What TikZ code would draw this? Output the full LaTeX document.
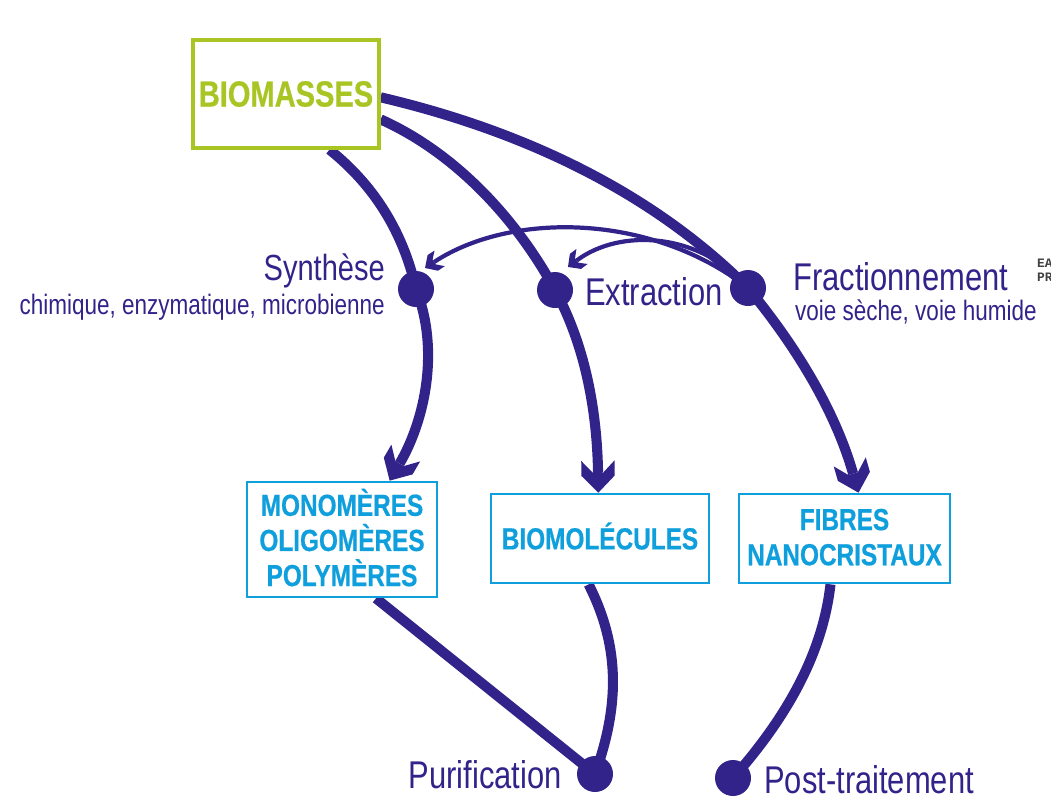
\documentclass[tikz,border=0pt]{standalone}
\usepackage{fontspec}
\usetikzlibrary{arrows.meta,backgrounds}
\newfontfamily\narrowfont[FakeStretch=0.8,BoldFeatures={FakeBold=0.6}]{Liberation Sans}
\newfontfamily\cutfont{Liberation Mono}
\definecolor{biogreen}{HTML}{A9C523}
\definecolor{prodblue}{HTML}{0F9FDC}
\definecolor{pathviolet}{HTML}{32238A}
\pgfdeclarearrow{
    name=BarbTip,
    parameters={\the\pgfarrowlength,\the\pgfarrowwidth},
    setup code={
        \pgfarrowssettipend{0pt}
        \pgfarrowssetlineend{-0.62\pgfarrowlength}
        \pgfarrowssetbackend{-\pgfarrowlength}
        \pgfarrowssetvisualbackend{-0.62\pgfarrowlength}
        \pgfarrowssavethe\pgfarrowlength
        \pgfarrowssavethe\pgfarrowwidth
    },
    drawing code={
        \pgfpathmoveto{\pgfqpoint{0pt}{0pt}}
        \pgfpathlineto{\pgfqpoint{-0.53\pgfarrowlength}{0.5\pgfarrowwidth}}
        \pgfpathlineto{\pgfqpoint{-\pgfarrowlength}{0.5\pgfarrowwidth}}
        \pgfpathlineto{\pgfqpoint{-0.62\pgfarrowlength}{0.15\pgfarrowwidth}}
        \pgfpathlineto{\pgfqpoint{-0.62\pgfarrowlength}{-0.15\pgfarrowwidth}}
        \pgfpathlineto{\pgfqpoint{-\pgfarrowlength}{-0.5\pgfarrowwidth}}
        \pgfpathlineto{\pgfqpoint{-0.53\pgfarrowlength}{-0.5\pgfarrowwidth}}
        \pgfpathclose
        \pgfusepathqfill
    },
    defaults={length=27.3pt,width=28.4pt}
}
\newdimen\pxu
\pxu=0.03cm
\tikzset{
    sourcebox/.style={draw=biogreen,line width=2.8pt,fill=white,text=biogreen,align=center,font=\narrowfont\bfseries\fontsize{31}{36}\selectfont},
    prodbox/.style={draw=prodblue,line width=2.3pt,fill=white,text=prodblue,inner sep=0pt,align=center,font=\narrowfont\bfseries\fontsize{26}{30}\selectfont},
    stepdot/.style={circle,fill=pathviolet,inner sep=0pt,minimum size=36\pxu},
    steptext/.style={text=pathviolet,inner sep=0pt,font=\narrowfont\fontsize{33}{38}\selectfont},
    subtext/.style={text=pathviolet,inner sep=0pt,font=\narrowfont\fontsize{24}{28}\selectfont},
    mainpath/.style={draw=pathviolet,line width=8.6pt},
    mainarrow/.style={mainpath,-{BarbTip}},
    backarrow/.style={draw=pathviolet,line width=3.6pt,-{BarbTip[length=15pt,width=16pt]}}
}
\begin{document}
\begin{tikzpicture}[x=0.03cm,y=-0.03cm]
    \useasboundingbox (0,0) rectangle (1051,801);
    %% Steps
    \node[stepdot] (synthese) at (416,289) {};
    \node[stepdot] (extraction) at (555,290) {};
    \node[stepdot] (fractionnement) at (748,288) {};
    \node[stepdot] (purification) at (595,774) {};
    \node[stepdot] (posttraitement) at (733,778) {};
    %% Boxes
    \node[sourcebox,minimum width=186\pxu,minimum height=108\pxu] (biomasses) at (286,94) {BIOMASSES};
    \node[prodbox,minimum width=190\pxu,minimum height=115\pxu] (monomeres) at (342,539.5) {\raisebox{3.5pt}{MONOMÈRES}\\\raisebox{3.5pt}{OLIGOMÈRES}\\\raisebox{3.5pt}{POLYMÈRES}};
    \node[prodbox,minimum width=218\pxu,minimum height=89\pxu] (biomolecules) at (600,538.5) {\raisebox{4.5pt}{BIOMOLÉCULES}};
    \node[prodbox,minimum width=211\pxu,minimum height=89\pxu] (fibres) at (844.5,538.5) {\raisebox{2.5pt}{FIBRES}\\\raisebox{2.5pt}{NANOCRISTAUX}};
    %% Paths
    \begin{scope}[on background layer]
        \draw[mainpath] (biomasses.-52.6) .. controls (380,190) and (405,240) .. (synthese.center);
        \draw[mainarrow] (synthese.center) .. controls (440,350) and (425,420) .. (monomeres.51.8);
        \draw[mainpath] (biomasses.-15.5) .. controls (460,155) and (520,225) .. (extraction.center);
        \draw[mainarrow] (extraction.center) .. controls (585,345) and (597,410) .. (biomolecules.92.5);
        \draw[mainpath] (biomasses.-2) .. controls (520,130) and (650,190) .. (fractionnement.center);
        \draw[mainarrow] (fractionnement.center) .. controls (795,345) and (835,410) .. (fibres.73.5);
        \draw[mainpath] (monomeres.-60.6) -- (purification.center);
        \draw[mainpath] (biomolecules.-104.8) .. controls (622,650) and (618,710) .. (purification.center);
        \draw[mainpath] (fibres.-107.7) .. controls (822,660) and (780,725) .. (posttraitement.center);
        %% Back arrows
        \coordinate (synthesetip) at (425,268);
        \coordinate (extractiontip) at (568,267);
        \draw[backarrow] (fractionnement.center) .. controls (650,212) and (510,212) .. (synthesetip);
        \draw[backarrow] (fractionnement.center) .. controls (700,232) and (620,228) .. (extractiontip);
    \end{scope}
    %% Labels
    \node[steptext,anchor=east,font=\narrowfont\fontsize{31}{38}\selectfont] (synthesetext) at (385,271) {Synthèse};
    \node[subtext,anchor=east] (synthesesub) at (385,307) {chimique, enzymatique, microbienne};
    \node[steptext,anchor=west] (extractiontext) at (585,292) {Extraction};
    \node[steptext,anchor=west] (fractionnementtext) at (793,277) {Fractionnement};
    \node[subtext,anchor=west] (fractionnementsub) at (795,312) {voie sèche, voie humide};
    \node[steptext,anchor=east] (purificationtext) at (562,775) {Purification};
    \node[steptext,anchor=west] (posttraitementtext) at (764,780) {Post-traitement};
    \node[anchor=west,inner sep=0pt,align=left,text=black!75,font=\cutfont\bfseries\fontsize{11}{12}\selectfont] (cuttext) at (1037,270) {EA\\PR};
\end{tikzpicture}
\end{document}
